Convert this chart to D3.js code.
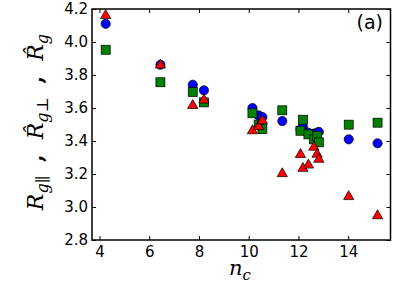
<!DOCTYPE html>
<html>
<head>
<meta charset="utf-8">
<script src="https://cdn.jsdelivr.net/npm/d3@7"></script>
<style>
  body { margin: 0; background: #fff; }
  svg text { font-family: "DejaVu Sans", sans-serif; }
</style>
</head>
<body>
<div id="chart"></div>
<script>
// n_c values shared by the three series
const nc = [4.25, 6.45, 7.75, 8.2, 10.15, 10.4, 10.55, 11.35, 12.08, 12.18, 12.4, 12.62, 12.75, 12.82, 14.02, 15.18];
// blue circles: R_g hat
const rgHat = [4.11, 3.862, 3.741, 3.707, 3.60, 3.555, 3.545, 3.521, 3.47, 3.485, 3.45, 3.445, 3.45, 3.455, 3.41, 3.386];
// green squares: R_g perp hat
const rgPerp = [3.953, 3.756, 3.697, 3.634, 3.568, 3.50, 3.472, 3.586, 3.462, 3.529, 3.44, 3.41, 3.43, 3.392, 3.499, 3.511];
// red triangles: R_g parallel
const rgPar = [4.16, 3.86, 3.615, 3.648, 3.462, 3.488, 3.523, 3.202, 3.318, 3.234, 3.254, 3.362, 3.32, 3.289, 3.063, 2.947];
const xTicks = [4, 6, 8, 10, 12, 14];
const yTicks = [2.8, 3.0, 3.2, 3.4, 3.6, 3.8, 4.0, 4.2];

const W = 399, H = 299;
const margin = { top: 9, right: 8.5, bottom: 59, left: 92 };
const width = W - margin.left - margin.right;
const height = H - margin.top - margin.bottom;

const svg = d3.select("#chart").append("svg")
  .attr("width", W).attr("height", H);
const g = svg.append("g").attr("transform", `translate(${margin.left},${margin.top})`);

const x = d3.scaleLinear().domain([3.7, 15.7]).range([0, width]);
const y = d3.scaleLinear().domain([2.8, 4.2]).range([height, 0]);

// axes, ticks pointing inward
g.append("g").attr("transform", `translate(0,${height})`)
  .call(d3.axisBottom(x).tickValues(xTicks).tickSize(-4).tickPadding(6).tickFormat(d3.format("d")));
g.append("g")
  .call(d3.axisLeft(y).tickValues(yTicks).tickSize(-4).tickPadding(4).tickFormat(d3.format(".1f")));
g.append("g").call(d3.axisTop(x).tickValues(xTicks).tickSize(-4).tickFormat(""));
g.append("g").attr("transform", `translate(${width},0)`)
  .call(d3.axisRight(y).tickValues(yTicks).tickSize(-4).tickFormat(""));
g.selectAll(".domain").remove();
g.selectAll(".tick line").attr("stroke", "#000").attr("stroke-width", 1);
g.selectAll(".tick text").attr("fill", "#000").style("font-size", "15px");

g.append("rect").attr("width", width).attr("height", height)
  .attr("fill", "none").attr("stroke", "#000").attr("stroke-width", 1.5);

// markers
g.selectAll("circle.hat").data(nc).enter().append("circle")
  .attr("cx", d => x(d)).attr("cy", (d, i) => y(rgHat[i])).attr("r", 4.6)
  .attr("fill", "#0000ff").attr("stroke", "#000").attr("stroke-width", 0.7);

const sq = 9;
g.selectAll("rect.perp").data(nc).enter().append("rect")
  .attr("x", d => x(d) - sq / 2).attr("y", (d, i) => y(rgPerp[i]) - sq / 2)
  .attr("width", sq).attr("height", sq)
  .attr("fill", "#008000").attr("stroke", "#000").attr("stroke-width", 0.7);

const tri = d3.symbol().type(d3.symbolTriangle).size(46);
g.selectAll("path.par").data(nc).enter().append("path")
  .attr("d", tri)
  .attr("transform", (d, i) => `translate(${x(d)},${y(rgPar[i])})`)
  .attr("fill", "#ff0000").attr("stroke", "#000").attr("stroke-width", 0.7);

// panel label
svg.append("text").attr("x", 383).attr("y", 29).attr("text-anchor", "end")
  .style("font-size", "19px").text("(a)");

// x label
const xl = svg.append("text").attr("x", 240).attr("y", 275).attr("text-anchor", "middle")
  .style("font-family", "DejaVu Serif").style("font-size", "21px");
xl.append("tspan").style("font-style", "italic").text("n");
xl.append("tspan").style("font-style", "italic").style("font-size", "15px").attr("dy", 5).text("c");

// y label
const yl = svg.append("text").attr("transform", "translate(43,122) rotate(-90)")
  .attr("text-anchor", "middle")
  .style("font-family", "DejaVu Serif").style("font-size", "22px");
function part(main, sub, first, last) {
  yl.append("tspan").style("font-style", "italic").attr("dx", first ? 0 : 15).text(main);
  yl.append("tspan").style("font-style", "italic").style("font-size", "16px").attr("dy", 5).text(sub);
  if (!last) yl.append("tspan").attr("dy", -5).attr("dx", 14).style("font-weight", "bold").text(",");
}
part("R", "g\u2225", true, false);
part("R\u0302", "g\u22A5", false, false);
part("R\u0302", "g", false, true);
</script>
</body>
</html>
